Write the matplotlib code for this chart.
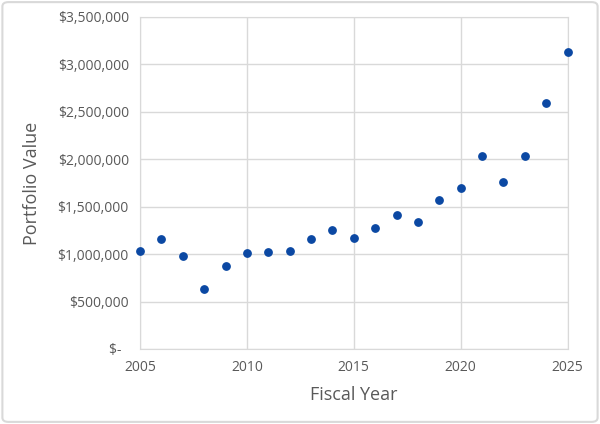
import matplotlib.pyplot as plt
from matplotlib.ticker import FuncFormatter
from matplotlib.patches import FancyBboxPatch

years = [2005, 2006, 2007, 2008, 2009, 2010, 2011, 2012, 2013, 2014, 2015,
         2016, 2017, 2018, 2019, 2020, 2021, 2022, 2023, 2024, 2025]
values = [1030000, 1157000, 978000, 630000, 875000, 1016000, 1023000, 1037000,
          1157000, 1258000, 1171000, 1273000, 1410000, 1340000, 1568000,
          1695000, 2033000, 1765000, 2029000, 2588000, 3126000]

plt.rcParams['font.family'] = ['Open Sans', 'DejaVu Sans']

fig = plt.figure(figsize=(6, 4.24), dpi=100)
ax = fig.add_axes([0.2333, 0.177, 0.7127, 0.783])

# light rounded frame around the whole chart
fig.patches.append(FancyBboxPatch((0.004, 0.005), 0.992, 0.99,
                                  boxstyle="round,pad=0,rounding_size=0.01",
                                  transform=fig.transFigure, fill=False,
                                  edgecolor='#d9d9d9', linewidth=1.5))

ax.scatter(years, values, s=28, color='#0b48a3', zorder=3, clip_on=False)

ax.set_xlim(2005, 2025)
ax.set_ylim(0, 3500000)
ax.set_xticks(range(2005, 2026, 5))
ax.set_yticks(range(0, 3500001, 500000))


def money(v, pos):
    if v == 0:
        return '$-  '
    return '${:,.0f}'.format(v)


ax.yaxis.set_major_formatter(FuncFormatter(money))
ax.grid(True, color='#d9d9d9', linewidth=1)
ax.set_axisbelow(True)
for s in ax.spines.values():
    s.set_color('#d9d9d9')
ax.tick_params(length=0, labelsize=10, colors='#595959', pad=8)

ax.set_xlabel('Fiscal Year', fontsize=13, color='#595959', labelpad=8)
ax.set_ylabel('Portfolio Value', fontsize=13, color='#595959', labelpad=12)

fig.savefig('out.png', dpi=100)
